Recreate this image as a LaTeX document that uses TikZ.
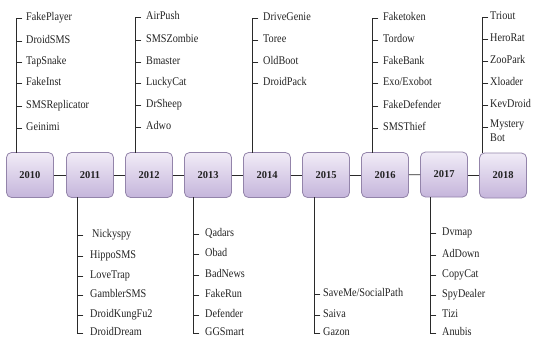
\documentclass[tikz,border=0pt]{standalone}
\usepackage{fontspec}
\setmainfont{Liberation Serif}
\definecolor{boxtop}{HTML}{F1ECF7}
\definecolor{boxbot}{HTML}{C5B5DB}
\definecolor{boxline}{HTML}{9384AA}
\definecolor{linec}{HTML}{2A2A2A}
\definecolor{txt}{HTML}{222222}
\newcommand\vstr[1]{\scalebox{1}[1.15]{#1}}
\begin{document}
\begin{tikzpicture}[x=1pt,y=-1pt,
  yearbox/.style={draw=boxline, line width=0.8pt, rounded corners=5pt,
    top color=boxtop, bottom color=boxbot,
    minimum width=47pt, minimum height=45pt, inner sep=0pt,
    font=\bfseries\fontsize{10.5}{12}\selectfont, text=txt},
  item/.style={anchor=west, inner sep=0pt, text height=8pt, text depth=2.6pt,
    font=\fontsize{10.2}{12}\selectfont, text=txt},
  branch/.style={draw=linec, line width=0.85pt, line cap=rect}]
\useasboundingbox (0,0) rectangle (533,340);

% year boxes
\foreach \yr/\x/\yy in {2010/30/175, 2011/90/175, 2012/149/175, 2013/208/175,
  2014/267/175, 2015/326/175, 2016/385/175, 2017/444/174.5, 2018/503/175.5}
  \node[yearbox] (y\yr) at (\x,\yy) {\yr};

% timeline connectors
\foreach \a/\b in {2010/2011, 2011/2012, 2012/2013, 2013/2014, 2014/2015,
  2015/2016, 2016/2017}
  \draw[branch, line cap=butt] (y\a) -- (y\b);
\draw[branch, line cap=butt] (y2017.east |- 0,175) -- (y2018.west |- 0,175);

% ---- top branches ----
% 2010
\coordinate (v2010) at (16,18);
\draw[branch] (v2010) -- (v2010 |- y2010.north);
\foreach \t/\yy [count=\i] in {FakePlayer/18, DroidSMS/41, TapSnake/62,
  FakeInst/83, SMSReplicator/106, Geinimi/128} {
  \node[item] (a2010-\i) at (26,\yy) {\vstr{\t}};
  \draw[branch] (v2010 |- a2010-\i.west) -- +(6,0);
}
% 2012
\coordinate (v2012) at (135,17);
\draw[branch] (v2012) -- (v2012 |- y2012.north);
\foreach \t/\yy [count=\i] in {AirPush/17, SMSZombie/40, Bmaster/62,
  LuckyCat/83, DrSheep/105, Adwo/127} {
  \node[item] (a2012-\i) at (146,\yy) {\vstr{\t}};
  \draw[branch] (v2012 |- a2012-\i.west) -- +(6,0);
}
% 2014
\coordinate (v2014) at (252,18);
\draw[branch] (v2014) -- (v2014 |- y2014.north);
\foreach \t/\yy [count=\i] in {DriveGenie/18, Toree/40, OldBoot/62, DroidPack/83} {
  \node[item] (a2014-\i) at (263,\yy) {\vstr{\t}};
  \draw[branch] (v2014 |- a2014-\i.west) -- +(6,0);
}
% 2016
\coordinate (v2016) at (372,18);
\draw[branch] (v2016) -- (v2016 |- y2016.north);
\foreach \t/\yy [count=\i] in {Faketoken/18, Tordow/40, FakeBank/62,
  {Exo/Exobot}/83, FakeDefender/106, SMSThief/128} {
  \node[item] (a2016-\i) at (383,\yy) {\vstr{\t}};
  \draw[branch] (v2016 |- a2016-\i.west) -- +(6,0);
}
% 2018
\coordinate (v2018) at (482,17);
\draw[branch] (v2018) -- (v2018 |- y2018.north);
\foreach \t/\yy [count=\i] in {Triout/17, HeroRat/39, ZooPark/61,
  Xloader/83, KevDroid/105} {
  \node[item] (a2018-\i) at (490,\yy) {\vstr{\t}};
  \draw[branch] (v2018 |- a2018-\i.west) -- +(6,0);
}
\node[item, text height=, text depth=, align=left, anchor=north west]
  (a2018-6) at (490,120) {\vstr{Mystery}\\[2pt]\vstr{Bot}};
\coordinate (m2018) at (482,127);
\draw[branch] (m2018) -- +(6,0);

% ---- bottom branches ----
% 2011
\coordinate (v2011) at (77,333);
\draw[branch] (v2011 |- y2011.south) -- (v2011);
\foreach \t/\yy/\xx [count=\i] in {Nickyspy/235/92, HippoSMS/256/90, LoveTrap/276/90,
  GamblerSMS/295/90, DroidKungFu2/315/90, DroidDream/333/90} {
  \node[item] (b2011-\i) at (\xx,\yy) {\vstr{\t}};
  \draw[branch] (v2011 |- b2011-\i.west) -- +(6,0);
}
% 2013
\coordinate (v2013) at (193,333);
\draw[branch] (v2013 |- y2013.south) -- (v2013);
\foreach \t/\yy [count=\i] in {Qadars/234, Obad/254, BadNews/275,
  FakeRun/295, Defender/315, GGSmart/333} {
  \node[item] (b2013-\i) at (205,\yy) {\vstr{\t}};
  \draw[branch] (v2013 |- b2013-\i.west) -- +(6,0);
}
% 2015
\coordinate (v2015) at (314,333);
\draw[branch] (v2015 |- y2015.south) -- (v2015);
\foreach \t/\yy [count=\i] in {{SaveMe/SocialPath}/294, Saiva/315, Gazon/333} {
  \node[item] (b2015-\i) at (323,\yy) {\vstr{\t}};
  \draw[branch] (v2015 |- b2015-\i.west) -- +(6,0);
}
% 2017
\coordinate (v2017) at (430,333);
\draw[branch] (v2017 |- y2017.south) -- (v2017);
\foreach \t/\yy [count=\i] in {Dvmap/233, AdDown/255, CopyCat/275,
  SpyDealer/295, Tizi/315, Anubis/333} {
  \node[item] (b2017-\i) at (442,\yy) {\vstr{\t}};
  \draw[branch] (v2017 |- b2017-\i.west) -- +(6,0);
}
\end{tikzpicture}
\end{document}
